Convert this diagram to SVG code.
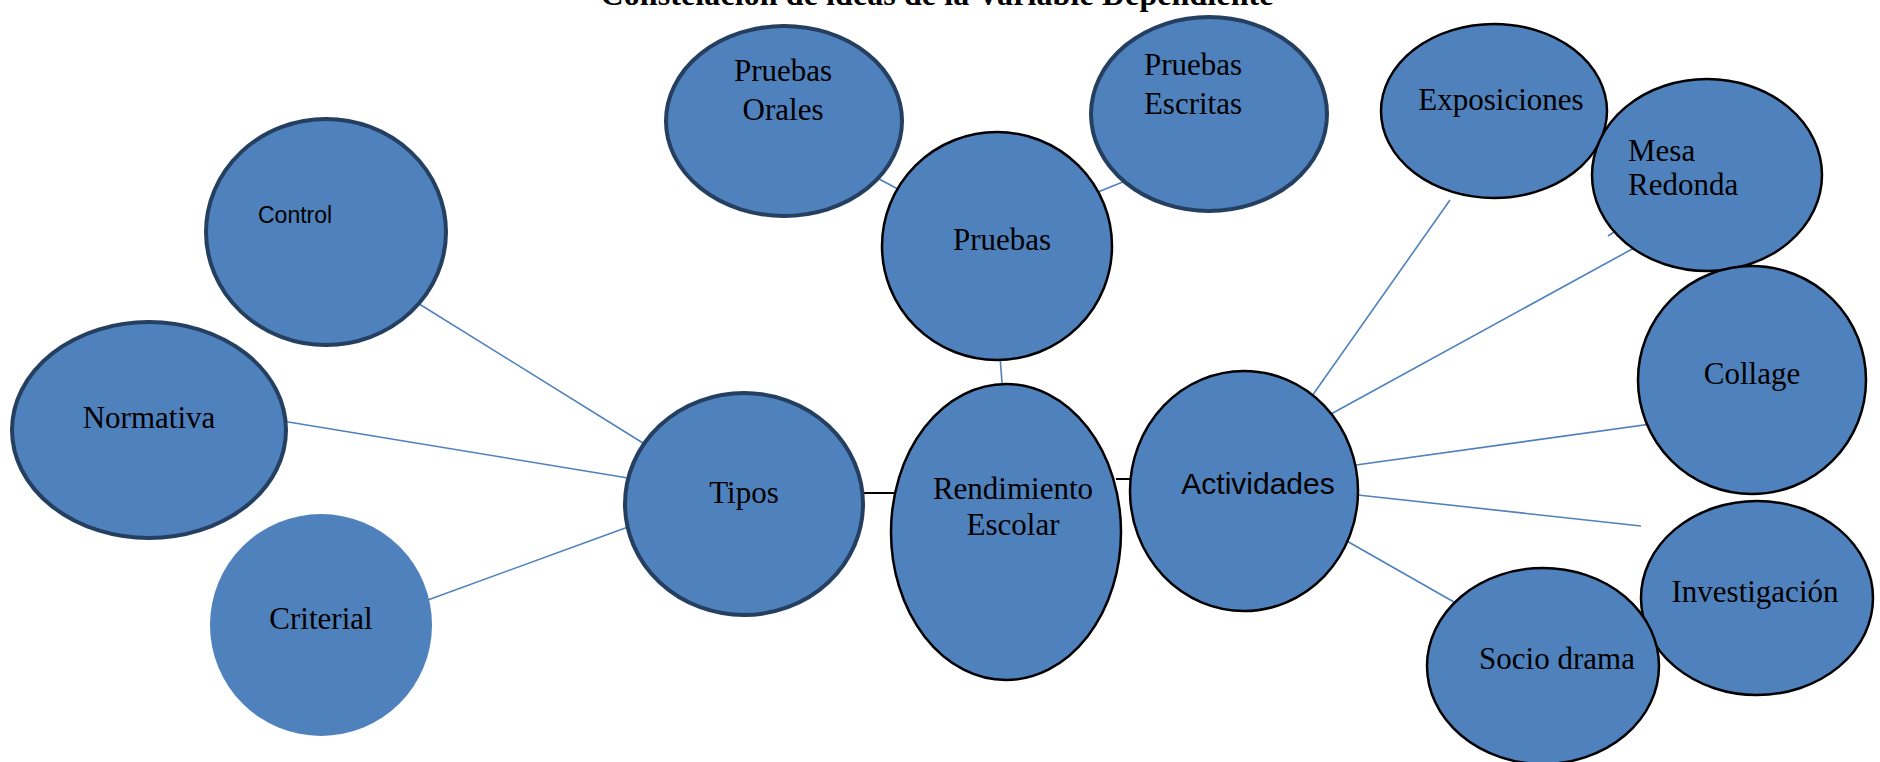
<svg xmlns="http://www.w3.org/2000/svg" width="1880" height="762" viewBox="0 0 1880 762">
<style>
.n{fill:#4f81bd}
.dk{stroke:#243f60;stroke-width:4}
.bk{stroke:#000;stroke-width:2.5}
.t{font-family:"Liberation Serif","Times New Roman",serif;font-size:31px;fill:#000;text-anchor:middle}
.ts{font-family:"Liberation Serif","Times New Roman",serif;font-size:31px;fill:#000;text-anchor:start}
.s{font-family:"Liberation Sans",Arial,sans-serif;fill:#000}
.c{stroke:#4f81bd;stroke-width:1.6;fill:none}
.k{stroke:#000;stroke-width:2;fill:none}
</style>
<rect width="1880" height="762" fill="#fff"/>
<text x="937" y="5" font-family="'Liberation Serif','Times New Roman',serif" font-weight="bold" font-size="32" text-anchor="middle" textLength="673">Constelación de ideas de la Variable Dependiente</text>
<g id="connectors">
<line class="c" x1="387" y1="284" x2="651" y2="448"/>
<line class="c" x1="258" y1="417" x2="628" y2="478"/>
<line class="c" x1="425" y1="601" x2="628" y2="527"/>
<line class="c" x1="870" y1="174" x2="918" y2="200"/>
<line class="c" x1="1165" y1="165" x2="1083" y2="198"/>
<line class="c" x1="999" y1="344" x2="1004" y2="408"/>
<line class="k" x1="858" y1="493" x2="897" y2="493"/>
<line class="k" x1="1116" y1="479" x2="1142" y2="479"/>
<line class="c" x1="1312" y1="396" x2="1450" y2="200"/>
<line class="c" x1="1331" y1="414" x2="1634" y2="248"/>
<line class="c" x1="1608" y1="236" x2="1617" y2="230"/>
<line class="c" x1="1356" y1="465" x2="1752" y2="410"/>
<line class="c" x1="1358" y1="495" x2="1641" y2="526"/>
<line class="c" x1="1345" y1="540" x2="1468" y2="610"/>
</g>
<g id="control"><ellipse class="n dk" cx="326" cy="232" rx="120" ry="113"/><text class="s" x="258" y="223" font-size="23">Control</text></g>
<g id="normativa"><ellipse class="n dk" cx="149" cy="430" rx="137" ry="108"/><text class="t" x="149" y="428">Normativa</text></g>
<g id="criterial"><circle class="n" cx="321" cy="625" r="111"/><text class="t" x="321" y="629">Criterial</text></g>
<g id="tipos"><ellipse class="n dk" cx="744" cy="504" rx="119" ry="111"/><text class="t" x="744" y="503">Tipos</text></g>
<g id="pruebas-orales"><ellipse class="n dk" cx="784" cy="121" rx="118" ry="95"/><text class="t" x="783" y="81">Pruebas</text><text class="t" x="783" y="120">Orales</text></g>
<g id="pruebas-escritas"><ellipse class="n dk" cx="1209" cy="114" rx="118" ry="97"/><text class="t" x="1193" y="75">Pruebas</text><text class="t" x="1193" y="114">Escritas</text></g>
<g id="pruebas"><ellipse class="n bk" cx="997" cy="246" rx="115" ry="114"/><text class="t" x="1002" y="250">Pruebas</text></g>
<g id="rendimiento"><ellipse class="n bk" cx="1006" cy="532" rx="115" ry="148"/><text class="t" x="1013" y="499">Rendimiento</text><text class="t" x="1013" y="535">Escolar</text></g>
<g id="actividades"><ellipse class="n bk" cx="1244" cy="491" rx="114" ry="120"/><text class="s" x="1258" y="494" font-size="30" text-anchor="middle">Actividades</text></g>
<g id="exposiciones"><ellipse class="n bk" cx="1494" cy="111" rx="113" ry="87"/><text class="t" x="1501" y="110">Exposiciones</text></g>
<g id="mesa-redonda"><ellipse class="n bk" cx="1707" cy="175" rx="115" ry="96"/><text class="ts" x="1628" y="161">Mesa</text><text class="ts" x="1628" y="195">Redonda</text></g>
<g id="collage"><ellipse class="n bk" cx="1752" cy="380" rx="114" ry="114"/><text class="t" x="1752" y="384">Collage</text></g>
<g id="investigacion"><ellipse class="n bk" cx="1757" cy="598" rx="116" ry="97"/><text class="t" x="1755" y="602">Investigación</text></g>
<g id="socio-drama"><ellipse class="n bk" cx="1543" cy="666" rx="116" ry="98"/><text class="t" x="1557" y="669">Socio drama</text></g>
</svg>
